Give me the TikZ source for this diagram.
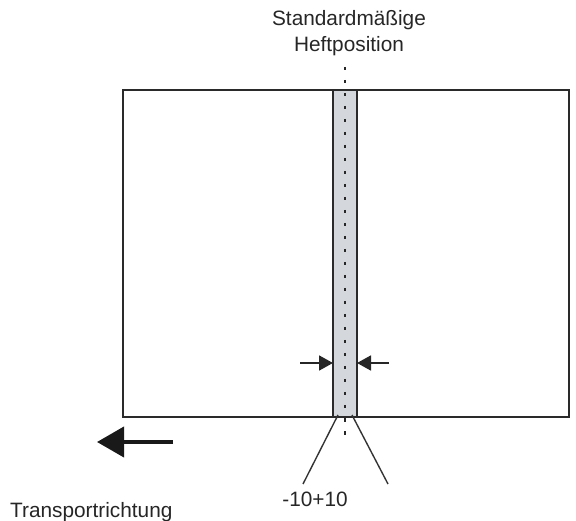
\documentclass[tikz,border=0pt]{standalone}
\usepackage{fontspec}
\setmainfont{Liberation Sans}
\usetikzlibrary{arrows.meta}
\definecolor{stripgray}{HTML}{D4D8DC}
\definecolor{linegray}{HTML}{2A2A2A}
\tikzset{
  frameline/.style={draw=linegray, line width=2pt},
  lbl/.style={font=\fontsize{20.8}{23}\selectfont, text=black!85, inner sep=0pt},
  smallarrow/.style={draw=black!85, line width=1.8pt, -{Triangle[length=14pt,width=15pt]}},
  bigarrow/.style={draw=black!90, line width=4pt, -{Triangle[length=27pt,width=30pt]}},
  fanline/.style={draw=black!80, line width=1.4pt},
  dotline/.style={draw=black!85, line width=2.8pt, dash pattern=on 3.5pt off 9.5pt}
}
\begin{document}
\begin{tikzpicture}[x=1pt,y=-1pt]
\useasboundingbox (0,0) rectangle (576,521);
% strip
\fill[stripgray] (333,90) rectangle (357,417);
% frame
\draw[frameline] (123,90) rectangle (569,417);
\draw[frameline] (333,90) -- (333,417);
\draw[frameline] (357,90) -- (357,417);
% dotted centre line
\coordinate (dtop) at (345,67);
\coordinate (dbot) at (345,443);
\draw[dotline] (dtop) -- (dbot);
% labels
\node[lbl] (std) at (349,20) {Standardmäßige};
\node[lbl] (heft) at (349,46) {Heftposition};
\node[lbl] (tol) at (315,499) {-10+10};
\node[lbl, anchor=west] (trans) at (10,512) {Transportrichtung};
% small arrows
\coordinate (la) at (300,363);
\coordinate (lb) at (333,363);
\coordinate (ra) at (389,363);
\coordinate (rb) at (357,363);
\draw[smallarrow] (la) -- (lb);
\draw[smallarrow] (ra) -- (rb);
% fan lines
\coordinate (f1a) at (338,415);
\coordinate (f1b) at (303,484);
\coordinate (f2a) at (352,415);
\coordinate (f2b) at (388,484);
\draw[fanline] (f1a) -- (f1b);
\draw[fanline] (f2a) -- (f2b);
% big arrow
\coordinate (ba) at (173,442);
\coordinate (bb) at (97,442);
\draw[bigarrow] (ba) -- (bb);
\end{tikzpicture}
\end{document}
